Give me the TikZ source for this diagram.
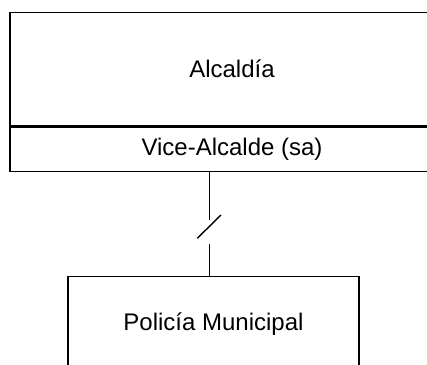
\documentclass[tikz,border=0pt]{standalone}
\usepackage{fontspec}
\setmainfont{Liberation Sans}
\begin{document}
\begin{tikzpicture}[x=1pt,y=1pt,
  box/.style={draw=black, line width=1.4pt, inner sep=0pt,
    font=\fontsize{24}{28}\selectfont, text=black},
  conn/.style={draw=black, line width=1.4pt}]
\useasboundingbox (0,0) rectangle (427,364);
\clip (0,0) rectangle (427,364);
\fill[white] (0,0) rectangle (427,364);
\node[box, minimum width=444pt, minimum height=113.7pt] (alc) at (232,294.85) {Alcaldía};
\node[box, minimum width=444pt, minimum height=44pt, anchor=north] (vice) at (alc.south) {Vice-Alcalde (sa)};
\node[box, minimum width=291pt, minimum height=96.3pt, anchor=north west] (pol) at (67.3,88.3) {Policía Municipal};
\coordinate (c1) at (209.3,144);
\coordinate (c2) at (209.3,120);
\coordinate (s1) at (197.3,125.7);
\coordinate (s2) at (221,149);
\draw[conn] (vice.south -| c1) -- (c1);
\draw[conn] (c2) -- (c2 |- pol.north);
\draw[conn] (s1) -- (s2);
\end{tikzpicture}
\end{document}
